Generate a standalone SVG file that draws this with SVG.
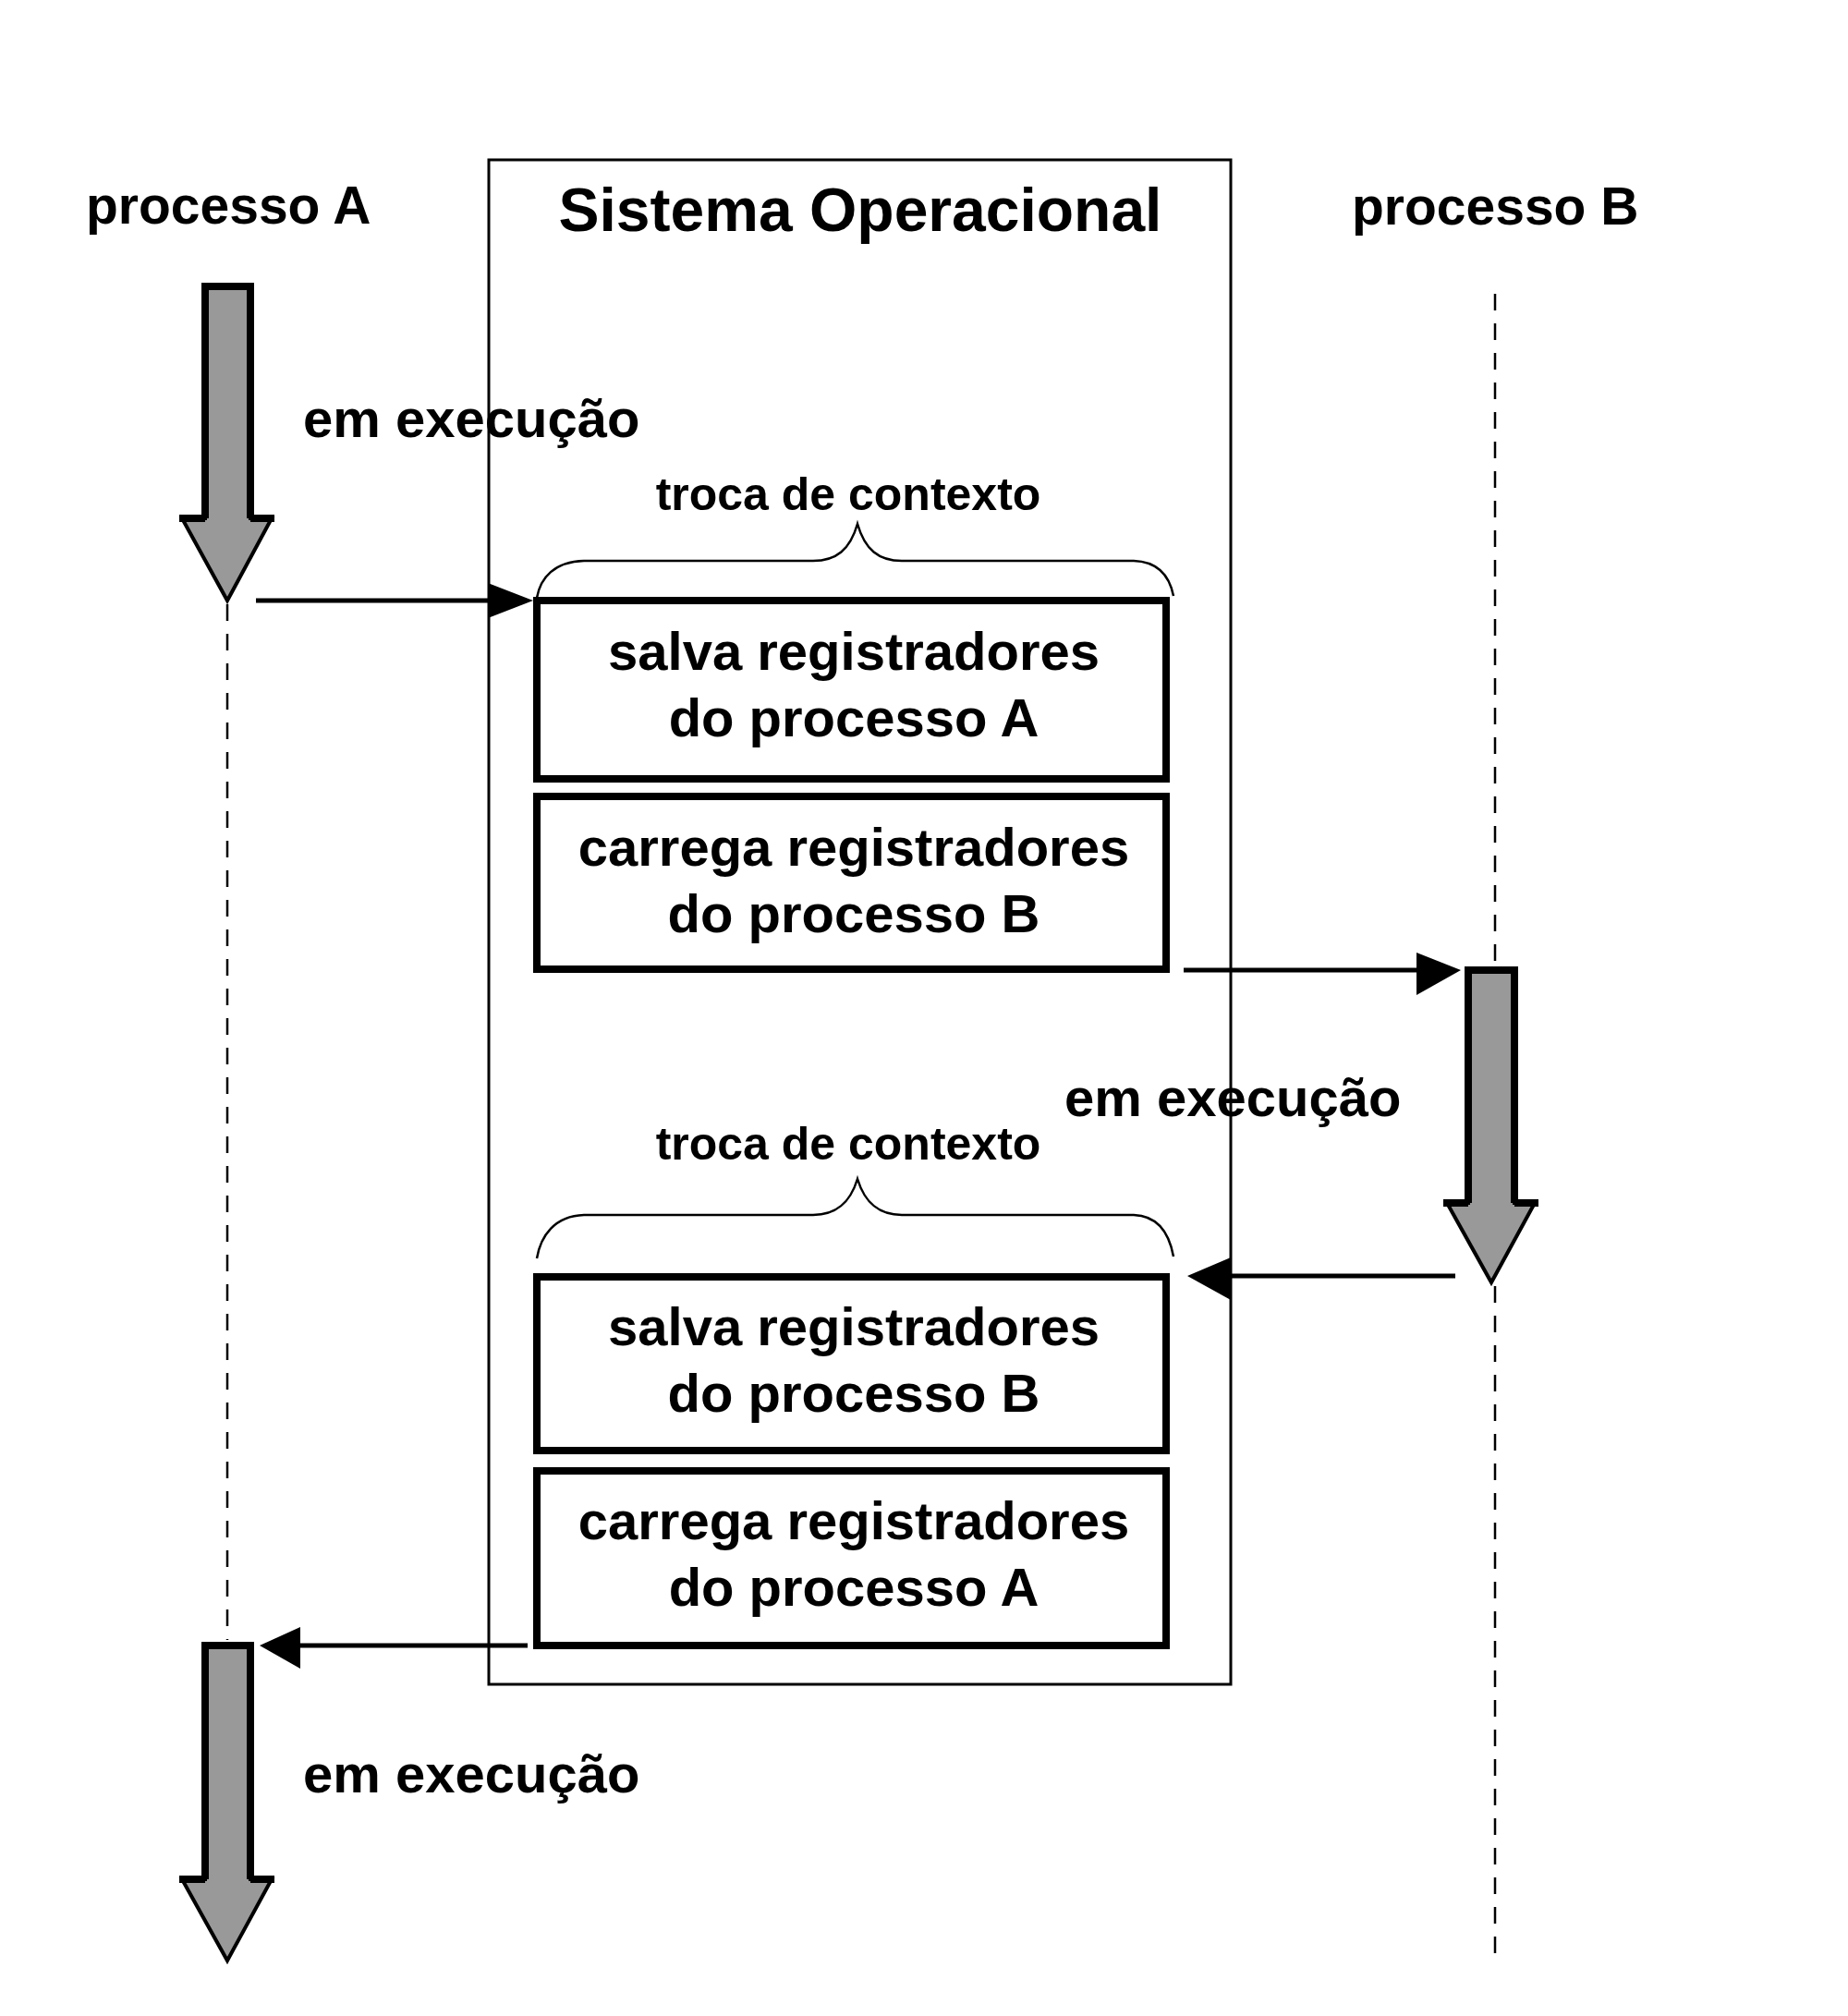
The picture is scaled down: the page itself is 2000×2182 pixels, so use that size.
<svg xmlns="http://www.w3.org/2000/svg" width="2000" height="2182" viewBox="0 0 2000 2182">
<style>
text{font-family:"Liberation Sans",Arial,sans-serif;font-weight:bold;fill:#000}
.big{font-size:57px}
.title{font-size:66px}
.lbl{font-size:58px}
.trc{font-size:50px}
.box{fill:#fff;stroke:#000;stroke-width:8}
.so{fill:none;stroke:#000;stroke-width:3}
.brace{fill:none;stroke:#000;stroke-width:2.5}
.dash{fill:none;stroke:#000;stroke-width:2.5;stroke-dasharray:18 14}
.conn{fill:none;stroke:#000;stroke-width:5}
.ahead{fill:#000;stroke:none}
.afill{fill:#999;stroke:#000;stroke-width:4;stroke-linejoin:miter}
.aedge{fill:none;stroke:#000;stroke-width:8;stroke-linejoin:miter}
</style>
<rect width="2000" height="2182" fill="#fff"/>

<g id="lifelines">
<line class="dash" x1="246" y1="654" x2="246" y2="1775"/>
<line class="dash" x1="1618" y1="318" x2="1618" y2="1046"/>
<line class="dash" x1="1618" y1="1392" x2="1618" y2="2122"/>
</g>

<g id="processo-A-label"><text class="big" x="93" y="242">processo A</text></g>
<g id="processo-B-label"><text class="big" x="1463" y="243">processo B</text></g>

<g id="sistema-operacional">
<rect class="so" x="529" y="173" width="803" height="1650"/>
<text class="title" x="931" y="250" text-anchor="middle">Sistema Operacional</text>
</g>

<g id="arrow-A1">
<polygon class="afill" points="222,310 271,310 271,561 294,561 246,650 197,561 222,561"/>
<path class="aedge" d="M222,561 V310 H271 V561 M194,561 H222 M271,561 H297"/>
<text class="lbl" x="328" y="473">em execução</text>
</g>

<g id="arrow-B">
<polygon class="afill" points="1589,1050 1639,1050 1639,1302 1661,1302 1614,1388 1566,1302 1589,1302"/>
<path class="aedge" d="M1589,1302 V1050 H1639 V1302 M1562,1302 H1589 M1639,1302 H1665"/>
<text class="lbl" x="1152" y="1208">em execução</text>
</g>

<g id="arrow-A2">
<polygon class="afill" points="222,1781 271,1781 271,2034 294,2034 246,2122 197,2034 222,2034"/>
<path class="aedge" d="M222,2034 V1781 H271 V2034 M194,2034 H222 M271,2034 H297"/>
<text class="lbl" x="328" y="1940">em execução</text>
</g>

<g id="troca-1">
<text class="trc" x="918" y="552" text-anchor="middle">troca de contexto</text>
<path class="brace" d="M581,647 C585,625 600,608 632,607 L880,607 C905,607 920,595 928,567 C936,595 951,607 976,607 L1227,607 C1255,608 1266,625 1270,645"/>
</g>

<g id="box-salva-A">
<rect class="box" x="581" y="650" width="681" height="193"/>
<text class="lbl" x="924" y="725" text-anchor="middle">salva registradores</text>
<text class="lbl" x="924" y="797" text-anchor="middle">do processo A</text>
</g>

<g id="box-carrega-B">
<rect class="box" x="581" y="862" width="681" height="187"/>
<text class="lbl" x="924" y="937" text-anchor="middle">carrega registradores</text>
<text class="lbl" x="924" y="1009" text-anchor="middle">do processo B</text>
</g>

<g id="troca-2">
<text class="trc" x="918" y="1255" text-anchor="middle">troca de contexto</text>
<path class="brace" d="M581,1362 C585,1338 600,1316 632,1315 L880,1315 C905,1315 920,1302 928,1276 C936,1302 951,1315 976,1315 L1227,1315 C1255,1316 1266,1338 1270,1360"/>
</g>

<g id="box-salva-B">
<rect class="box" x="581" y="1382" width="681" height="188"/>
<text class="lbl" x="924" y="1456" text-anchor="middle">salva registradores</text>
<text class="lbl" x="924" y="1528" text-anchor="middle">do processo B</text>
</g>

<g id="box-carrega-A">
<rect class="box" x="581" y="1592" width="681" height="189"/>
<text class="lbl" x="924" y="1666" text-anchor="middle">carrega registradores</text>
<text class="lbl" x="924" y="1738" text-anchor="middle">do processo A</text>
</g>

<g id="connectors">
<line class="conn" x1="277" y1="650" x2="540" y2="650"/>
<polygon class="ahead" points="528,631 577,650 528,669"/>
<line class="conn" x1="1281" y1="1050" x2="1545" y2="1050"/>
<polygon class="ahead" points="1533,1031 1581,1050 1533,1077"/>
<line class="conn" x1="1575" y1="1381" x2="1320" y2="1381"/>
<polygon class="ahead" points="1332,1361 1285,1381 1332,1407"/>
<line class="conn" x1="571" y1="1781" x2="310" y2="1781"/>
<polygon class="ahead" points="325,1761 281,1781 325,1806"/>
</g>
</svg>
